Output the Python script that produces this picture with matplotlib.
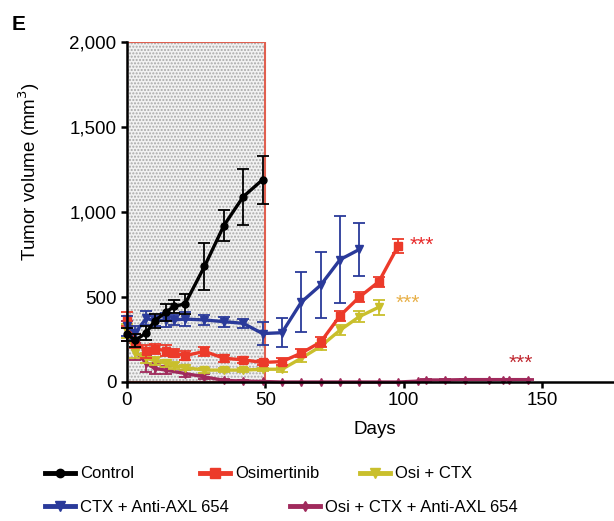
import matplotlib
matplotlib.use("Agg")
import matplotlib.pyplot as plt
from matplotlib.patches import Rectangle
from matplotlib.lines import Line2D

plt.rcParams["font.family"] = ["Liberation Sans", "DejaVu Sans"]

# 数据
ctrl_days = [0, 3, 7, 10, 14, 17, 21, 28, 35, 42, 49]
ctrl_vol = [280, 245, 290, 360, 410, 445, 460, 680, 920, 1090, 1190]
ctrl_err = [40, 40, 40, 40, 50, 40, 60, 140, 90, 165, 140]

osi_days = [0, 3, 7, 10, 14, 17, 21, 28, 35, 42, 49, 56, 63, 70, 77, 84, 91, 98]
osi_vol = [370, 240, 180, 195, 185, 170, 155, 180, 140, 130, 115, 120, 170, 235, 390, 500, 590, 800]
osi_err = [40, 40, 40, 30, 30, 25, 25, 25, 20, 20, 15, 20, 25, 30, 30, 30, 30, 40]

oc_days = [0, 3, 7, 10, 14, 17, 21, 28, 35, 42, 49, 56, 63, 70, 77, 84, 91]
oc_vol = [300, 170, 140, 125, 110, 95, 85, 70, 70, 70, 75, 75, 140, 210, 305, 385, 440]
oc_err = [40, 30, 30, 25, 20, 20, 15, 15, 10, 10, 10, 15, 20, 20, 30, 30, 45]

axl_days = [0, 3, 7, 10, 14, 17, 21, 28, 35, 42, 49, 56, 63, 70, 77, 84]
axl_vol = [330, 290, 375, 360, 365, 365, 370, 365, 355, 345, 285, 290, 470, 570, 720, 780]
axl_err = [60, 40, 40, 30, 40, 30, 40, 30, 30, 25, 70, 85, 175, 195, 255, 155]

all_days = [0, 3, 7, 10, 14, 21, 28, 35, 42, 49, 56, 63, 70, 77, 84, 91, 98,
            105, 108, 115, 122, 131, 136, 138, 145]
all_vol = [300, 180, 110, 80, 70, 50, 30, 10, 5, 3, 0, 0, 0, 0, 0, 0, 0,
           5, 12, 12, 14, 14, 14, 14, 14]
all_err = [60, 50, 50, 30, 25, 20, 15, 8, 4, 3, 0, 0, 0, 0, 0, 0, 0,
           3, 4, 4, 4, 4, 4, 4, 4]

series = [
    ("Control", ctrl_days, ctrl_vol, ctrl_err, "black", "o", 5),
    ("Osimertinib", osi_days, osi_vol, osi_err, "#ec3a2a", "s", 6),
    ("Osi + CTX", oc_days, oc_vol, oc_err, "#c9bf2c", "v", 6),
    ("CTX + Anti-AXL 654", axl_days, axl_vol, axl_err, "#2a3a9a", "v", 6),
    ("Osi + CTX + Anti-AXL 654", all_days, all_vol, all_err, "#a02a5c", "d", 4),
]
zorders = [6, 4, 3, 5, 2]

stars = [(102, 805, "#e82a2a"), (97, 465, "#e8b048"), (138, 112, "#c02830")]

fig = plt.figure(figsize=(6.14, 5.21), dpi=100)
ax = fig.add_axes([127 / 614, 139 / 521, 487 / 614, 340 / 521])

# 给药区间阴影
ax.add_patch(Rectangle((0, 0), 50, 2000, facecolor="#f2f2f2", edgecolor="#a8a8a8",
                       hatch=".....", linewidth=0, zorder=0))
ax.add_patch(Rectangle((0, 0), 50, 2000, fill=False, edgecolor="#e06050",
                       linewidth=1.5, zorder=1))

for (name, d, v, e, c, m, ms), z in zip(series, zorders):
    ax.errorbar(d, v, yerr=e, color=c, marker=m, markersize=ms, linewidth=2.4,
                elinewidth=1.3, capsize=4, capthick=1.3, zorder=z, clip_on=False)

for x, y, c in stars:
    ax.text(x, y, "***", color=c, fontsize=15, ha="left", va="center")

ax.set_xlim(0, 176)
ax.set_ylim(0, 2000)
ax.set_xticks([0, 50, 100, 150])
ax.set_yticks([0, 500, 1000, 1500, 2000])
ax.set_yticklabels(["0", "500", "1,000", "1,500", "2,000"])
ax.spines["top"].set_visible(False)
ax.spines["right"].set_visible(False)
for s in ["left", "bottom"]:
    ax.spines[s].set_linewidth(1.8)
    ax.spines[s].set_zorder(7)
ax.tick_params(axis="both", labelsize=13.5, width=1.8, length=4.5, pad=3)

ax.set_xlabel("Days", fontsize=13.5)
ax.xaxis.set_label_coords(0.509, -0.115)
ax.set_ylabel("Tumor volume (mm$^3$)", fontsize=13.5)
ax.yaxis.set_label_coords(-0.175, 0.62)

fig.text(12 / 614, 1 - 24 / 521, "E", fontsize=15, fontweight="bold", va="center")

# 图例：逐项放置
leg_pos = [(45, 474), (200, 474), (360, 474), (45, 507), (290, 507)]
for (name, d, v, e, c, m, ms), (px, py) in zip(series, leg_pos):
    h = Line2D([], [], color=c, marker=m, markersize=ms + 1, linewidth=3.5)
    fig.legend([h], [name], loc="center left", bbox_to_anchor=(px / 614, 1 - py / 521),
               frameon=False, fontsize=12, handlelength=1.8, handletextpad=0.3,
               borderaxespad=0, borderpad=0)

fig.savefig("out.png", dpi=100)
